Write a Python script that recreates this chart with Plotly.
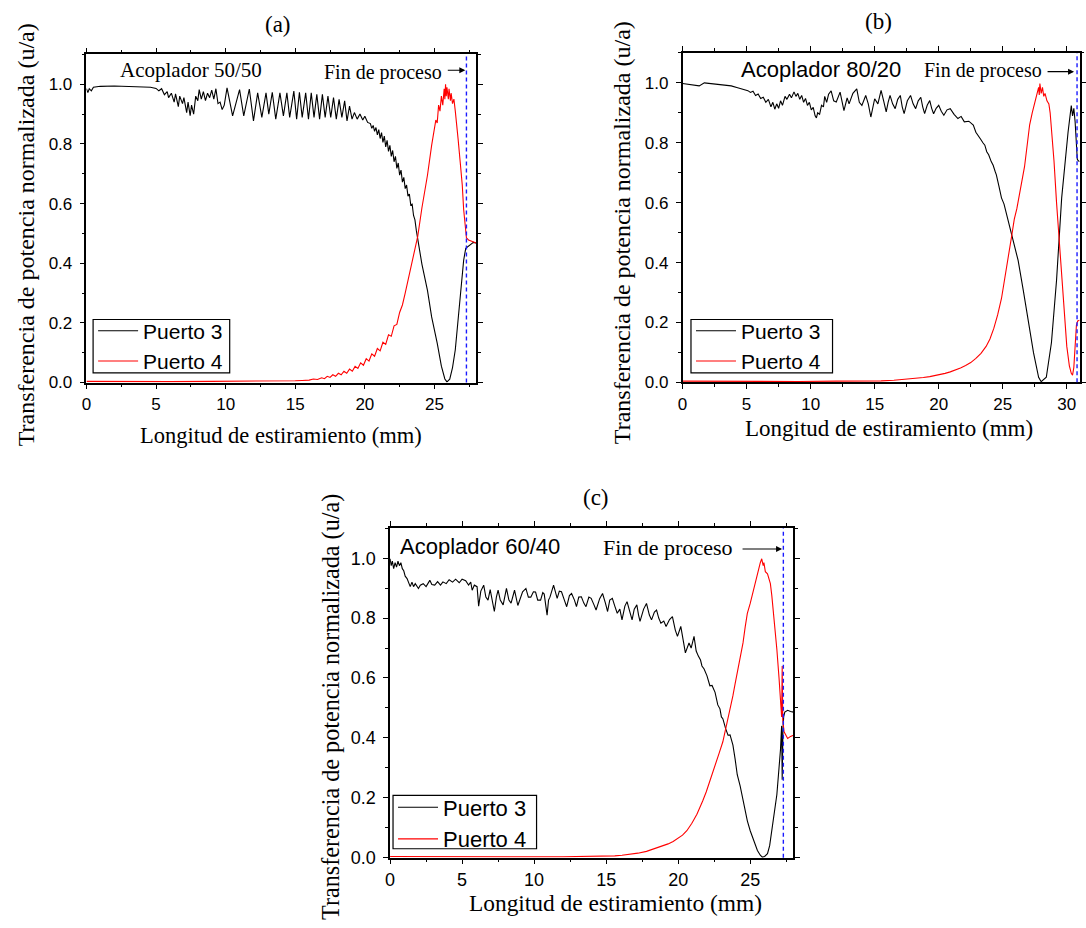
import plotly.graph_objects as go

W, H = 1086, 928

# ---------------- data (x in mm, y normalised power) ----------------
# Panel (a) Acoplador 50/50
a_port3 = [(0, 0.985), (0.1, 0.972), (0.2, 0.985), (0.35, 0.978), (0.5, 0.990), (1.0, 0.993), (2.0, 0.994),
           (3.0, 0.993), (4.0, 0.992), (4.6, 0.990), (5.0, 0.986), (5.2, 0.978), (5.4, 0.985), (5.6, 0.965),
           (5.8, 0.975), (5.9, 0.955), (6.1, 0.970), (6.3, 0.940), (6.4, 0.968), (6.6, 0.925), (6.7, 0.960),
           (6.9, 0.935), (7.0, 0.955), (7.2, 0.905), (7.3, 0.940), (7.45, 0.895), (7.55, 0.930), (7.7, 0.900),
           (7.85, 0.960), (8.0, 0.945), (8.1, 0.982), (8.25, 0.950), (8.4, 0.975), (8.55, 0.945), (8.7, 0.970),
           (8.85, 0.955), (9.0, 0.980), (9.15, 0.950), (9.3, 0.985), (9.45, 0.935), (9.6, 0.940), (9.75, 0.915),
           (9.9, 0.930), (10.1, 0.988), (10.5, 0.894), (11.0, 0.982), (11.3, 0.894), (11.7, 0.984), (12.0, 0.877),
           (12.3, 0.971), (12.6, 0.889), (12.9, 0.971), (13.1, 0.900), (13.35, 0.973), (13.6, 0.883), (13.9, 0.971),
           (14.15, 0.894), (14.4, 0.971), (14.6, 0.889), (14.9, 0.977), (15.1, 0.883), (15.3, 0.973), (15.5, 0.889),
           (15.75, 0.971), (15.95, 0.883), (16.15, 0.971), (16.35, 0.889), (16.55, 0.966), (16.75, 0.883),
           (16.95, 0.966), (17.15, 0.889), (17.35, 0.960), (17.55, 0.889), (17.75, 0.955), (17.95, 0.883),
           (18.15, 0.949), (18.35, 0.889), (18.55, 0.944), (18.72, 0.877), (18.9, 0.927), (19.08, 0.883),
           (19.25, 0.905), (19.45, 0.883), (19.65, 0.900), (19.85, 0.880), (20.0, 0.893), (20.2, 0.872),
           (20.4, 0.868), (20.5, 0.852), (20.6, 0.862), (20.7, 0.842), (20.8, 0.855), (20.9, 0.830), (21.0, 0.848),
           (21.1, 0.818), (21.2, 0.838), (21.3, 0.805), (21.4, 0.826), (21.5, 0.790), (21.6, 0.812), (21.7, 0.775),
           (21.8, 0.795), (21.9, 0.758), (22.0, 0.778), (22.1, 0.740), (22.2, 0.758), (22.3, 0.718), (22.4, 0.736),
           (22.5, 0.695), (22.6, 0.712), (22.7, 0.672), (22.8, 0.688), (22.9, 0.650), (23.0, 0.662), (23.1, 0.625),
           (23.2, 0.632), (23.3, 0.595), (23.4, 0.598), (23.5, 0.560), (23.6, 0.545), (23.7, 0.510), (23.8, 0.480),
           (24.1, 0.397), (24.5, 0.309), (24.8, 0.220), (25.2, 0.132), (25.5, 0.055), (25.75, 0.012), (25.9, 0.002),
           (26.1, 0.011), (26.3, 0.050), (26.5, 0.110), (26.8, 0.265), (27.0, 0.370), (27.1, 0.410), (27.25, 0.450),
           (27.4, 0.455), (27.6, 0.464), (27.8, 0.470), (28.0, 0.468)]

a_port4 = [(0, 0.004), (3, 0.003), (6, 0.003), (9, 0.004), (12, 0.004), (14, 0.005), (15.0, 0.006), (15.5, 0.007),
           (16.0, 0.008), (16.3, 0.012), (16.6, 0.010), (16.9, 0.016), (17.1, 0.013), (17.3, 0.021), (17.5, 0.017),
           (17.7, 0.026), (17.9, 0.021), (18.1, 0.031), (18.3, 0.026), (18.5, 0.038), (18.7, 0.031), (18.9, 0.045),
           (19.1, 0.038), (19.3, 0.054), (19.5, 0.047), (19.7, 0.066), (19.9, 0.058), (20.1, 0.080), (20.3, 0.072),
           (20.5, 0.096), (20.7, 0.088), (20.9, 0.114), (21.1, 0.106), (21.3, 0.135), (21.5, 0.128), (21.7, 0.160),
           (21.9, 0.155), (22.1, 0.190), (22.3, 0.195), (22.5, 0.235), (22.7, 0.260), (22.9, 0.300), (23.1, 0.342),
           (23.4, 0.408), (23.8, 0.490), (24.1, 0.585), (24.5, 0.695), (24.8, 0.795), (25.0, 0.850), (25.1, 0.880),
           (25.2, 0.870), (25.3, 0.930), (25.4, 0.910), (25.5, 0.960), (25.6, 0.930), (25.7, 0.985), (25.75, 0.950),
           (25.8, 1.000), (25.85, 0.960), (25.9, 0.990), (26.0, 0.950), (26.05, 0.985), (26.15, 0.945), (26.2, 0.970),
           (26.3, 0.935), (26.4, 0.950), (26.5, 0.910), (26.6, 0.870), (26.7, 0.817), (26.85, 0.740), (27.0, 0.662),
           (27.1, 0.580), (27.2, 0.520), (27.3, 0.485), (27.45, 0.478), (27.6, 0.475), (27.8, 0.472), (28.0, 0.468)]

# Panel (b) Acoplador 80/20
b_port3 = [(0, 0.998), (0.5, 0.995), (1.0, 0.993), (1.3, 0.990), (1.7, 1.000), (2.4, 0.997), (3.2, 0.994),
           (3.8, 0.990), (4.3, 0.984), (4.8, 0.978), (5.1, 0.974), (5.3, 0.968), (5.5, 0.972), (5.7, 0.958),
           (5.9, 0.963), (6.1, 0.948), (6.3, 0.952), (6.5, 0.935), (6.7, 0.945), (6.9, 0.920), (7.05, 0.935),
           (7.2, 0.912), (7.35, 0.930), (7.5, 0.915), (7.65, 0.940), (7.8, 0.925), (8.0, 0.955), (8.15, 0.945),
           (8.35, 0.962), (8.5, 0.950), (8.7, 0.970), (8.85, 0.955), (9.0, 0.965), (9.15, 0.945), (9.3, 0.958),
           (9.45, 0.935), (9.6, 0.948), (9.75, 0.925), (9.9, 0.935), (10.05, 0.910), (10.2, 0.918), (10.35, 0.890),
           (10.45, 0.883), (10.55, 0.900), (10.7, 0.895), (10.85, 0.925), (11.0, 0.920), (11.1, 0.955), (11.25, 0.935),
           (11.4, 0.962), (11.6, 0.973), (11.8, 0.940), (12.0, 0.936), (12.3, 0.969), (12.6, 0.907), (12.85, 0.950),
           (13.0, 0.930), (13.3, 0.965), (13.6, 0.980), (13.8, 0.935), (14.0, 0.925), (14.3, 0.958), (14.5, 0.930),
           (14.7, 0.886), (14.85, 0.920), (15.0, 0.947), (15.25, 0.930), (15.5, 0.975), (15.7, 0.940), (15.9, 0.903),
           (16.05, 0.935), (16.2, 0.958), (16.4, 0.930), (16.6, 0.914), (16.8, 0.945), (17.0, 0.958), (17.15, 0.920),
           (17.3, 0.897), (17.55, 0.940), (17.8, 0.958), (18.0, 0.930), (18.2, 0.914), (18.4, 0.940), (18.6, 0.952),
           (18.75, 0.920), (18.9, 0.897), (19.1, 0.925), (19.3, 0.941), (19.45, 0.915), (19.6, 0.897), (19.8, 0.915),
           (20.0, 0.925), (20.2, 0.905), (20.4, 0.892), (20.65, 0.910), (20.9, 0.914), (21.2, 0.895), (21.5, 0.881),
           (21.75, 0.888), (22.0, 0.870), (22.35, 0.872), (22.7, 0.859), (22.9, 0.835), (23.1, 0.820), (23.3, 0.810),
           (23.45, 0.800), (23.6, 0.792), (23.75, 0.770), (23.9, 0.760), (24.1, 0.737), (24.25, 0.725), (24.4, 0.705),
           (24.5, 0.693), (24.7, 0.655), (24.9, 0.616), (25.1, 0.595), (25.3, 0.561), (25.6, 0.505), (25.8, 0.470),
           (26.2, 0.407), (26.6, 0.308), (27.0, 0.198), (27.4, 0.099), (27.8, 0.017), (28.0, 0.002), (28.4, 0.017),
           (28.8, 0.132), (29.2, 0.341), (29.6, 0.616), (30.1, 0.836), (30.25, 0.900), (30.35, 0.924), (30.45, 0.890),
           (30.55, 0.915), (30.65, 0.870), (30.75, 0.800), (30.82, 0.745), (30.9, 0.740), (31.0, 0.737)]

b_port4 = [(0, 0.004), (3, 0.003), (6, 0.003), (9, 0.003), (12, 0.004), (14, 0.004), (15.5, 0.005), (16.5, 0.007),
           (17.5, 0.010), (18.3, 0.013), (18.8, 0.016), (19.3, 0.019), (19.7, 0.022), (20.1, 0.026), (20.5, 0.030),
           (20.9, 0.035), (21.3, 0.041), (21.7, 0.048), (22.1, 0.056), (22.5, 0.066), (22.9, 0.080), (23.3, 0.097),
           (23.7, 0.120), (24.0, 0.145), (24.3, 0.180), (24.6, 0.225), (24.9, 0.280), (25.1, 0.330), (25.3, 0.390),
           (25.5, 0.440), (25.7, 0.490), (25.9, 0.545), (26.1, 0.580), (26.4, 0.650), (26.7, 0.720), (26.9, 0.790),
           (27.1, 0.860), (27.3, 0.900), (27.5, 0.935), (27.7, 0.965), (27.8, 0.985), (27.85, 0.960), (27.9, 0.998),
           (28.0, 0.965), (28.1, 0.985), (28.2, 0.955), (28.3, 0.965), (28.45, 0.940), (28.6, 0.930), (28.7, 0.900),
           (28.85, 0.820), (29.0, 0.740), (29.2, 0.600), (29.4, 0.480), (29.6, 0.350), (29.8, 0.230), (30.0, 0.120),
           (30.2, 0.055), (30.35, 0.030), (30.45, 0.024), (30.55, 0.050), (30.65, 0.120), (30.75, 0.190),
           (30.85, 0.205), (31.0, 0.207)]

# Panel (c) Acoplador 60/40
c_port3 = [(0, 0.998), (0.08, 0.975), (0.16, 0.990), (0.25, 0.965), (0.35, 0.985), (0.45, 0.970), (0.55, 0.990),
           (0.65, 0.975), (0.75, 0.985), (0.85, 0.965), (0.95, 0.958), (1.05, 0.940), (1.18, 0.932), (1.3, 0.915),
           (1.4, 0.905), (1.52, 0.920), (1.63, 0.905), (1.75, 0.915), (1.97, 0.899), (2.1, 0.910), (2.3, 0.915),
           (2.5, 0.905), (2.76, 0.926), (2.9, 0.912), (3.1, 0.910), (3.3, 0.922), (3.5, 0.910), (3.67, 0.921),
           (3.9, 0.915), (4.1, 0.928), (4.34, 0.920), (4.55, 0.930), (4.8, 0.918), (5.0, 0.930), (5.25, 0.925),
           (5.45, 0.910), (5.6, 0.920), (5.7, 0.893), (5.85, 0.910), (6.04, 0.905), (6.15, 0.840), (6.3, 0.890),
           (6.5, 0.910), (6.65, 0.870), (6.8, 0.860), (6.95, 0.895), (7.1, 0.860), (7.24, 0.822), (7.38, 0.870),
           (7.5, 0.893), (7.65, 0.860), (7.85, 0.844), (8.08, 0.899), (8.25, 0.860), (8.4, 0.850), (8.64, 0.893),
           (8.87, 0.842), (9.05, 0.870), (9.2, 0.888), (9.43, 0.899), (9.6, 0.870), (9.77, 0.870), (9.95, 0.888),
           (10.1, 0.887), (10.25, 0.860), (10.45, 0.860), (10.6, 0.885), (10.7, 0.880), (10.9, 0.810), (11.0, 0.860),
           (11.1, 0.870), (11.35, 0.910), (11.6, 0.866), (11.75, 0.890), (11.9, 0.888), (12.1, 0.860), (12.26, 0.838),
           (12.45, 0.875), (12.6, 0.882), (12.8, 0.860), (12.94, 0.838), (13.1, 0.870), (13.28, 0.871), (13.45, 0.850),
           (13.6, 0.838), (13.8, 0.870), (13.96, 0.866), (14.15, 0.845), (14.3, 0.827), (14.55, 0.865), (14.75, 0.882),
           (14.95, 0.850), (15.1, 0.822), (15.25, 0.860), (15.43, 0.866), (15.6, 0.840), (15.77, 0.816), (15.95, 0.830),
           (16.1, 0.794), (16.3, 0.840), (16.45, 0.855), (16.65, 0.820), (16.8, 0.794), (16.95, 0.830), (17.13, 0.844),
           (17.25, 0.810), (17.35, 0.789), (17.6, 0.830), (17.8, 0.849), (18.0, 0.810), (18.15, 0.794), (18.35, 0.820),
           (18.5, 0.827), (18.65, 0.800), (18.8, 0.783), (19.0, 0.790), (19.16, 0.772), (19.4, 0.795), (19.6, 0.805),
           (19.8, 0.760), (19.95, 0.739), (20.18, 0.772), (20.35, 0.720), (20.5, 0.684), (20.75, 0.717), (20.9, 0.700),
           (21.1, 0.739), (21.25, 0.690), (21.4, 0.673), (21.55, 0.660), (21.65, 0.640), (21.8, 0.630), (22.0, 0.607),
           (22.1, 0.590), (22.2, 0.574), (22.35, 0.575), (22.56, 0.552), (22.75, 0.510), (22.9, 0.497), (23.0, 0.470),
           (23.1, 0.464), (23.3, 0.430), (23.46, 0.409), (23.6, 0.410), (23.8, 0.376), (23.95, 0.330), (24.1, 0.277),
           (24.3, 0.240), (24.5, 0.189), (24.65, 0.150), (24.8, 0.123), (25.0, 0.090), (25.16, 0.068), (25.35, 0.040),
           (25.5, 0.024), (25.7, 0.008), (25.84, 0.002), (26.0, 0.004), (26.2, 0.013), (26.35, 0.040), (26.5, 0.090),
           (26.7, 0.150), (26.85, 0.211), (27.0, 0.300), (27.1, 0.360), (27.18, 0.440), (27.22, 0.260), (27.27, 0.420),
           (27.32, 0.470), (27.4, 0.486), (27.6, 0.492), (27.8, 0.488), (28.0, 0.486)]

c_port4 = [(0, 0.004), (3, 0.003), (6, 0.003), (9, 0.003), (12, 0.003), (14, 0.004), (15.0, 0.005), (15.6, 0.006),
           (16.1, 0.008), (16.6, 0.011), (17.2, 0.015), (17.8, 0.021), (18.4, 0.030), (18.9, 0.038), (19.3, 0.046),
           (19.65, 0.054), (19.95, 0.063), (20.3, 0.075), (20.6, 0.090), (20.95, 0.115), (21.3, 0.145), (21.5, 0.165),
           (21.7, 0.189), (21.95, 0.220), (22.2, 0.255), (22.4, 0.280), (22.6, 0.310), (22.85, 0.350), (23.1, 0.387),
           (23.3, 0.430), (23.46, 0.464), (23.65, 0.500), (23.8, 0.541), (23.95, 0.580), (24.1, 0.618), (24.3, 0.665),
           (24.5, 0.717), (24.65, 0.770), (24.8, 0.816), (25.0, 0.849), (25.2, 0.890), (25.4, 0.926), (25.5, 0.950),
           (25.6, 0.970), (25.7, 0.985), (25.8, 0.998), (25.9, 0.975), (25.95, 0.985), (26.05, 0.955), (26.2, 0.948),
           (26.3, 0.935), (26.4, 0.915), (26.5, 0.875), (26.6, 0.827), (26.75, 0.750), (26.85, 0.695), (27.0, 0.600),
           (27.1, 0.530), (27.18, 0.470), (27.22, 0.640), (27.26, 0.460), (27.35, 0.420), (27.5, 0.405), (27.6, 0.398),
           (27.8, 0.405), (28.0, 0.409)]

# end-of-process positions (mm)
fin_a, fin_b, fin_c = 27.3, 30.8, 27.3
series_names = ["Puerto 3", "Puerto 4"]
panel_labels = ["(a)", "(b)", "(c)"]
coupler_labels = ["Acoplador 50/50", "Acoplador 80/20", "Acoplador 60/40"]
x_ranges = [(0, 28), (0, 31), (0, 28)]

# ---------------- layout helpers ----------------
SERIF = "Liberation Serif, Times New Roman, serif"
SANS = "Liberation Sans, Arial, sans-serif"


def px(x):
    return x / W


def py(y):
    return 1 - y / H


fig = go.Figure()

panels = [
    dict(data=(a_port3, a_port4), xa="x", ya="y", leg="legend"),
    dict(data=(b_port3, b_port4), xa="x2", ya="y2", leg="legend2"),
    dict(data=(c_port3, c_port4), xa="x3", ya="y3", leg="legend3"),
]
colors = ["#000000", "#ff0000"]

for p in panels:
    for k, series in enumerate(p["data"]):
        xs = [v[0] for v in series]
        ys = [v[1] for v in series]
        fig.add_trace(go.Scatter(x=xs, y=ys, mode="lines", name=series_names[k],
                                 line=dict(color=colors[k], width=1.1),
                                 xaxis=p["xa"], yaxis=p["ya"], legend=p["leg"]))

# axes geometry (pixels)
geo = [
    dict(l=82.3, r=476.0, t=55.0, b=386.7, tf=17),
    dict(l=684.5, r=1085.6, t=53.5, b=386.5, tf=17),
    dict(l=389.0, r=796.5, t=534.0, b=867.0, tf=18),
]


def xaxis_cfg(g, rng, anchor):
    return dict(domain=[px(g["l"]), px(g["r"])], anchor=anchor, range=list(rng), tick0=0, dtick=5,
                ticks="outside", ticklen=5, tickwidth=1.4, tickcolor="black",
                showline=True, linewidth=1.6, linecolor="black", mirror="ticks",
                showgrid=False, zeroline=False,
                tickfont=dict(family=SANS, size=g["tf"], color="black"),
                minor=dict(dtick=2.5, ticklen=3, tickwidth=1.2, tickcolor="black", ticks="outside", showgrid=False))


def yaxis_cfg(g, anchor):
    return dict(domain=[py(g["b"]), py(g["t"])], anchor=anchor, range=[0, 1.1], tick0=0, dtick=0.2,
                tickformat=".1f", ticks="outside", ticklen=5, tickwidth=1.4, tickcolor="black",
                showline=True, linewidth=1.6, linecolor="black", mirror="ticks",
                showgrid=False, zeroline=False, ticklabelstandoff=4,
                tickfont=dict(family=SANS, size=g["tf"], color="black"),
                minor=dict(dtick=0.1, ticklen=3, tickwidth=1.2, tickcolor="black", ticks="outside", showgrid=False))


# legend boxes (pixels: left, top, right, bottom) and legend font sizes
legend_boxes = [(89, 323, 227, 377), (693, 323, 836, 377), (392, 804, 537, 858)]
legend_fonts = [21, 21, 22]
legs = {}
for i, (l, t, r, b) in enumerate(legend_boxes):
    key = "legend" if i == 0 else "legend%d" % (i + 1)
    legs[key] = dict(x=px(l), y=py(t - 9), xanchor="left", yanchor="top", bgcolor="rgba(0,0,0,0)",
                     borderwidth=0, font=dict(family=SANS, size=legend_fonts[i], color="black"),
                     tracegroupgap=0, itemwidth=40)

fig.update_layout(
    width=W, height=H, autosize=False,
    margin=dict(l=0, r=0, t=0, b=0),
    paper_bgcolor="white", plot_bgcolor="white",
    xaxis=xaxis_cfg(geo[0], x_ranges[0], "y"), yaxis=yaxis_cfg(geo[0], "x"),
    xaxis2=xaxis_cfg(geo[1], x_ranges[1], "y2"), yaxis2=yaxis_cfg(geo[1], "x2"),
    xaxis3=xaxis_cfg(geo[2], x_ranges[2], "y3"), yaxis3=yaxis_cfg(geo[2], "x3"),
    **legs,
)

# legend frames
for (l, t, r, b) in legend_boxes:
    fig.add_shape(type="rect", xref="paper", yref="paper", x0=px(l), x1=px(r), y0=py(b), y1=py(t),
                  line=dict(color="black", width=1.2), fillcolor="white", layer="above")

# dashed "end of process" lines
for fin, xa in [(fin_a, "x"), (fin_b, "x2"), (fin_c, "x3")]:
    fig.add_shape(type="line", xref=xa, yref=xa.replace("x", "y") + " domain", x0=fin, x1=fin, y0=0, y1=1,
                  line=dict(color="#1a1aff", width=1.4, dash="4px,3px"))

ann = []


def text(t, x, y, fam, size, xanchor="center", angle=0):
    ann.append(dict(text=t, x=px(x), y=py(y), xref="paper", yref="paper", showarrow=False,
                    xanchor=xanchor, yanchor="middle", textangle=angle,
                    font=dict(family=fam, size=size, color="black")))


ytitle = "Transferencia de potencia normalizada (u/a)"
xtitle = "Longitud de estiramiento (mm)"

# panel (a)
text(panel_labels[0], 276, 25, SERIF, 23)
text(ytitle, 22, 237, SERIF, 24, angle=-90)
text(xtitle, 279, 440, SERIF, 22.5)
text(coupler_labels[0], 188, 71, SERIF, 21)
text("Fin de proceso", 443, 73, SERIF, 20, xanchor="right")
# panel (b)
text(panel_labels[1], 882, 22, SERIF, 23)
text(ytitle, 624, 235, SERIF, 24, angle=-90)
text(xtitle, 893, 433, SERIF, 23)
text(coupler_labels[1], 824, 70, SANS, 22)
text("Fin de proceso", 1050, 71, SERIF, 20, xanchor="right")
# panel (c)
text(panel_labels[2], 597, 503, SERIF, 23)
text(ytitle, 330, 715, SERIF, 24.2, angle=-90)
text(xtitle, 617, 913, SERIF, 23.4)
text(coupler_labels[2], 480, 552, SANS, 22)
text("Fin de proceso", 737, 553, SERIF, 22, xanchor="right")

# arrows pointing to the dashed lines
for (x0, x1, y) in [(446, 465, 71), (1052, 1080, 72.5), (744, 785, 555)]:
    ann.append(dict(text="", x=px(x1), y=py(y), xref="paper", yref="paper", ax=-(x1 - x0), ay=0,
                    axref="pixel", ayref="pixel", showarrow=True, arrowhead=2, arrowsize=1.0,
                    arrowwidth=1.2, arrowcolor="black", standoff=0, startstandoff=0))

fig.update_layout(annotations=ann)

fig.write_html("out.html", config={"displayModeBar": False},
               post_script="document.body.style.margin='0px';document.body.style.overflow='hidden';")
